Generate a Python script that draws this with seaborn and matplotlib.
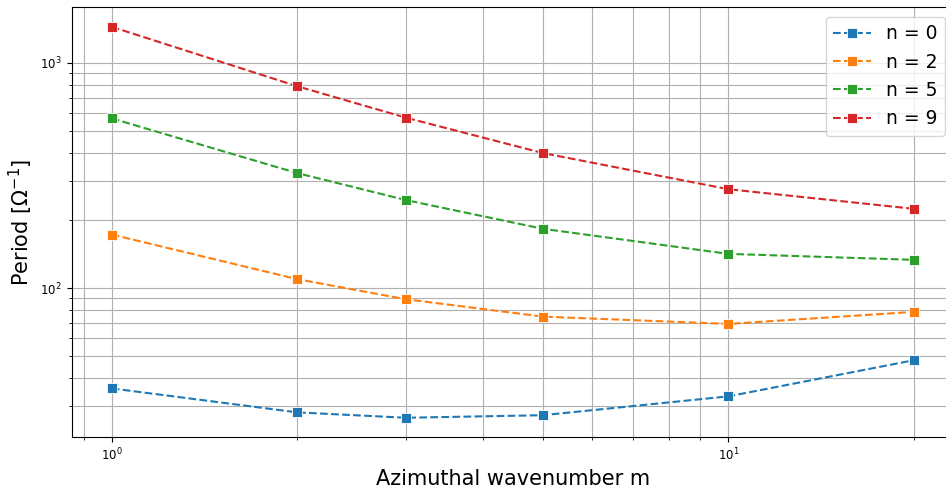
import matplotlib
matplotlib.use("Agg")
import matplotlib.pyplot as plt
import seaborn as sns
import pandas as pd

m_values = [1, 2, 3, 5, 10, 20]
n0 = [35.9, 28.1, 26.6, 27.3, 33.1, 47.9]
n2 = [173, 109.6, 89.3, 74.8, 69.4, 78.5]
n5 = [567, 324, 246, 183.5, 142, 133.6]
n9 = [1445, 787, 571, 398, 275, 225]
labels = ["n = 0", "n = 2", "n = 5", "n = 9"]
series = [n0, n2, n5, n9]
colors = ["#1f77b4", "#ff7f0e", "#2ca02c", "#d62728"]

fig = plt.figure(figsize=(9.46, 4.88), dpi=100)
ax = fig.add_axes([0.0758, 0.1039, 0.9327, 0.8811])

for lab, vals, col in zip(labels, series, colors):
    df = pd.DataFrame({"m": m_values, "P": vals})
    sns.lineplot(data=df, x="m", y="P", ax=ax, color=col, marker="s",
                 linestyle="--", markersize=6.5, markeredgecolor="white",
                 markeredgewidth=0.6, linewidth=1.5, label=lab)

ax.set_xscale("log")
ax.set_yscale("log")
ax.grid(True, which="both", color="#b0b0b0", linewidth=0.8)
ax.set_axisbelow(True)
ax.tick_params(axis="both", which="major", labelsize=8.5)
ax.set_xlabel("Azimuthal wavenumber m", fontsize=15)
ax.set_ylabel(r"Period [$\Omega^{-1}$]", fontsize=15)
ax.legend(loc="upper right", fontsize=13.5)

fig.savefig("out.png", dpi=100)
